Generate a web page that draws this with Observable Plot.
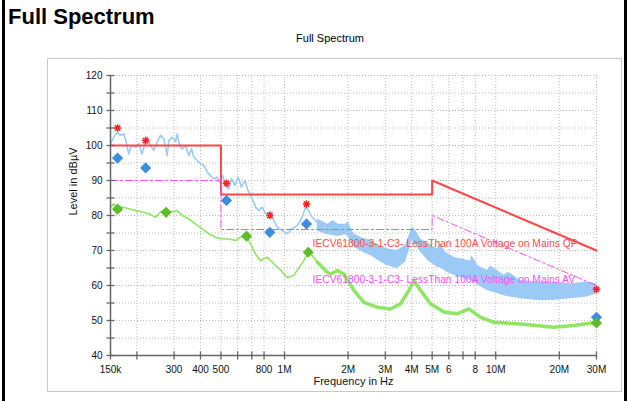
<!DOCTYPE html>
<html>
<head>
<meta charset="utf-8">
<script src="https://cdn.jsdelivr.net/npm/d3@7"></script>
<script src="https://cdn.jsdelivr.net/npm/@observablehq/plot@0.6"></script>
<style>
  html, body { margin: 0; padding: 0; background: #fff; }
  #page { position: relative; width: 631px; height: 401px; overflow: hidden; background: #fff;
          font-family: "Liberation Sans", Arial, sans-serif; color: #000; }
  .edge { position: absolute; top: 0; width: 3px; height: 401px; background: #000; }
  #title { position: absolute; left: 8px; top: 6px; font-size: 22px; line-height: 22px; font-weight: bold; }
  #subtitle { position: absolute; left: 230px; width: 200px; top: 33px; font-size: 11px; line-height: 11px; text-align: center; }
  #panel { position: absolute; left: 47px; top: 58px; width: 573px; height: 332px; border: 1px solid #c8c8c8; }
  #chart { position: absolute; left: 0; top: 50px; }
</style>
</head>
<body>
<div id="page">
  <div class="edge" style="left:2px"></div>
  <div class="edge" style="left:624px"></div>
  <div id="title">Full Spectrum</div>
  <div id="panel"></div>
  <div id="subtitle">Full Spectrum</div>
  <div id="chart"></div>
</div>
<script>
// ---- data (frequency in kHz, level in dB) ----
const blueLineKHz = [150,155.5,161.4,167.3,173.4,178,183.1,188.6,197,204.2,211.9,218,223.8,232,240.5,249.6,258.7,268.2,278.3,283.2,293.9,304.7,310.4,318.3,327.8,339.8,352.3,362.8,372,386.1,400.2,414.9,430.6,446.3,462.7,480.2,492.4,510.4,525.6,544.8,561.1,581.7,603.6,625.8,648.7,673.1,703.1,729,755.6,784.1,812.9,858.4,889.8,923.4,975.2,1029.7,1087.4,1148.4,1212.8,1257.1,1303.1,1352.4,1428.3,1508.3,1592.6];
const blueLineDb = [100.5,102.4,103.8,102.9,103.3,101,97.6,100,99.5,100.5,97.6,100.5,102.4,100,98.6,101,102.9,101.9,97.1,101.4,102.4,101,103.3,100,99,100,97.1,99,96.7,95.7,94.8,94.3,92.4,91.4,90.5,91,89.5,91.4,88.6,87.6,90.5,88.6,91,88.1,90,87.1,84.8,82.4,81.4,82.4,80.5,81,78.6,76.7,75.7,74.8,76.2,77.1,79.5,82.4,81.4,79.5,78.1,76.2,75.2];

const blueBandKHz = [1430,1600,1700,1800,1945,2000,2130,2350,2554,2800,3064,3417,3741,3900,4023,4200,4405,4800,5286,5500,5800,6333,7000,7596,7700,8300,9113,9500,10923,11500,13104,15719,18840,22599,27108,30000];
const blueBandLo  = [75.5,74.5,74.3,74,74.5,74,71,69.5,68.6,67,65.7,64.8,66.7,70,72.9,71.5,69.5,67,65.2,65,64,62.9,62,61.4,61.2,60,58.6,58.3,57.1,56.8,56.2,55.7,55.7,56.2,56.7,57.6];
const blueBandHi  = [79,77.5,78.6,77.5,77.5,78.2,74.8,73.5,72.9,71.5,70.5,70,71.4,74.5,76.7,75.5,73.3,72,70.5,71.8,69.5,68.1,67.5,67,68.6,65.5,64.3,65.6,62.9,63.8,61.4,61,61,60.5,61,60.5];

const greenLowKHz = [150,155.5,161.4,170.4,183.1,197,211.9,227.7,245,258.7,273.2,293.9,310.4,327.8,352.3,379,407.7,438.1,471.3,507,544.8,586.2,619,653.6,690.3,729,769.7,828.1,889.8,957.4,1029.7,1106.5,1233.9,1303.1,1428.3];
const greenLowDb  = [82.4,83.3,82.4,82.4,81.9,81.4,81,80.5,79.5,81,81.4,81,81.4,80,79,77.6,76.2,74.8,73.8,73.3,73.3,72.9,73.8,74.3,71.9,69,67.1,68.1,66.2,64.5,62.2,62.9,67.1,69.8,66.7];

const greenHighKHz = [1428.3,1592.6,1651,1776,1908,2129,2374,2747,3176,3542,3878,4095,4405,4911,5679,6571,7458,8472,9795,13104,18840,23430,30000];
const greenHighDb  = [66.7,63.8,63.3,64.3,63.3,58.6,55.2,53.8,53.3,54.8,58.6,61.4,58.6,54.8,52.4,51.9,53.3,50.9,49.5,49,48.1,48.6,49.5];

const limitKHz = [150,500,500,5000,5000,30000];
const qpLimit  = [100,100,86,86,90,70];
const avLimit  = [90,90,76,76,80,60];

const peakKHz  = [162,220,531,852,1271,30000];
const peakQP   = [105,101.4,89.2,80,83.3,58.9];
const qpMeas   = [96.4,93.6,84.3,75.2,77.6,50.9];
const avKHz    = [162,275,661,1295,30000];
const avMeas   = [81.8,80.9,74.1,69.5,49.3];

const qpLabel = "IECV61800-3-1-C3- LessThan 100A Voltage on Mains QP";
const avLabel = "IECV61800-3-1-C3- LessThan 100A Voltage on Mains AV";

const xTickKHz   = [150,200,300,400,500,600,700,800,1000,2000,3000,4000,5000,6000,7000,8000,10000,20000,30000];
const xLabelKHz  = [150,300,400,500,800,1000,2000,3000,4000,5000,6000,8000,10000,20000,30000];
const xLabelText = ["150k","300","400","500","800","1M","2M","3M","4M","5M","6","8","10M","20M","30M"];
const yGrid      = [40,45,50,55,60,65,70,75,80,85,90,95,100,105,110,115,120];
const yLabels    = [40,50,60,70,80,90,100,110,120];

// ---- tables ----
const blueRows  = blueLineKHz.map((f,i) => ({f, v: blueLineDb[i]}));
const bandRows  = blueBandKHz.map((f,i) => ({f, lo: blueBandLo[i], hi: blueBandHi[i]}));
const greenLow  = greenLowKHz.map((f,i) => ({f, v: greenLowDb[i]}));
const greenHigh = greenHighKHz.map((f,i) => ({f, v: greenHighDb[i]}));
const limitRows = limitKHz.map((f,i) => ({f, qp: qpLimit[i], av: avLimit[i]}));
const peakRows  = peakKHz.map((f,i) => ({f, pk: peakQP[i], qp: qpMeas[i]}));
const avRows    = avKHz.map((f,i) => ({f, v: avMeas[i]}));
const xLabRows  = xLabelKHz.map((f,i) => ({f, t: xLabelText[i]}));

// ---- custom symbols ----
const hTick = {draw(c){ c.moveTo(-4,0); c.lineTo(4,0); }};
const vTick = {draw(c){ c.moveTo(0,-4); c.lineTo(0,4); }};
const diamond = {draw(c){ const r = 5.6; c.moveTo(0,-r); c.lineTo(r,0); c.lineTo(0,r); c.lineTo(-r,0); c.closePath(); }};
const star = {draw(c){ const r = 3.8, k = r*0.7071;
  c.moveTo(0,-r); c.lineTo(0,r); c.moveTo(-r,0); c.lineTo(r,0);
  c.moveTo(-k,-k); c.lineTo(k,k); c.moveTo(-k,k); c.lineTo(k,-k); }};

const blue = "#9ccaf6", green = "#8fe663", axisC = "#666";

const chart = Plot.plot({
  width: 631, height: 351,
  marginLeft: 110, marginRight: 35, marginTop: 25, marginBottom: 46,
  x: {type: "log", domain: [150, 30000], axis: null},
  y: {domain: [40, 120], axis: null},
  style: {background: "transparent", fontFamily: "'Liberation Sans', Arial, sans-serif", overflow: "visible", color: "#000"},
  marks: [
    Plot.ruleY(yGrid, {stroke: "#bbb", strokeDasharray: "1,2"}),
    Plot.ruleX(xTickKHz, {stroke: "#bbb", strokeDasharray: "1,2"}),
    Plot.areaY(bandRows, {x: "f", y1: "lo", y2: "hi", fill: blue}),
    Plot.line(blueRows, {x: "f", y: "v", stroke: blue, strokeWidth: 1.6}),
    Plot.line(greenLow, {x: "f", y: "v", stroke: green, strokeWidth: 1.6}),
    Plot.line(greenHigh, {x: "f", y: "v", stroke: green, strokeWidth: 3.5}),
    Plot.line(limitRows, {x: "f", y: "qp", stroke: "#ff4646", strokeWidth: 2}),
    Plot.line(limitRows, {x: "f", y: "av", stroke: "#ff4dff", strokeWidth: 1, strokeDasharray: "7,3,2,3"}),
    Plot.text([qpLabel], {x: 1357, y: 71.9, text: d => d, textAnchor: "start", fill: "#ff4d4d", fontSize: 10.3}),
    Plot.text([avLabel], {x: 1357, y: 61.6, text: d => d, textAnchor: "start", fill: "#ff4dff", fontSize: 10.3}),
    // axes
    Plot.ruleX([150], {stroke: axisC, strokeWidth: 1.5}),
    Plot.ruleY([40], {stroke: axisC, strokeWidth: 1.5}),
    Plot.dot(yGrid, {x: 150, y: d => d, symbol: hTick, stroke: axisC, fill: "none", strokeWidth: 1.3}),
    Plot.dot(xTickKHz, {x: d => d, y: 40, symbol: vTick, stroke: axisC, fill: "none", strokeWidth: 1.3}),
    Plot.text(yLabels, {x: 150, y: d => d, text: d => String(d), dx: -8, textAnchor: "end", fontSize: 10, fill: "#111"}),
    Plot.text(xLabRows, {x: "f", y: 40, text: "t", dy: 14, fontSize: 10, fill: "#111"}),
    Plot.text(["Frequency in Hz"], {frameAnchor: "bottom", dy: 29, fontSize: 11, fill: "#111"}),
    Plot.text(["Level in dBµV"], {frameAnchor: "left", dx: -37, rotate: -90, fontSize: 11, fill: "#111"}),
    // markers
    Plot.dot(peakRows, {x: "f", y: "qp", symbol: diamond, fill: "#3b8fd9", stroke: "none"}),
    Plot.dot(avRows, {x: "f", y: "v", symbol: diamond, fill: "#5cbc2c", stroke: "none"}),
    Plot.dot(peakRows, {x: "f", y: "pk", symbol: star, stroke: "#ff2020", fill: "none", strokeWidth: 1.5})
  ]
});
document.getElementById("chart").appendChild(chart);
</script>
</body>
</html>
